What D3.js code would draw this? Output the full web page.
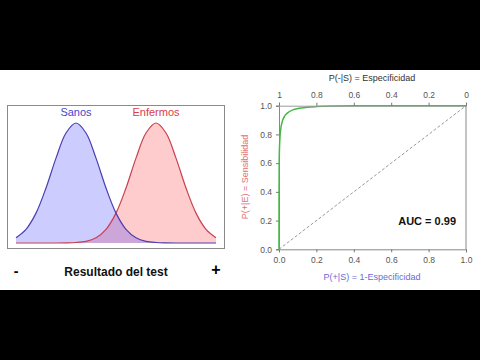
<!DOCTYPE html>
<html><head><meta charset="utf-8">
<script src="https://cdn.jsdelivr.net/npm/d3@7"></script>
<style>html,body{margin:0;padding:0;background:#fff;}svg{display:block;font-family:"Liberation Sans",Arial,sans-serif;}</style>
</head><body>
<svg id="c" width="480" height="360"></svg>
<script>
// Left panel: test result distributions (relative density)
const testX = [0,0.5,1,1.5,2,2.5,3,3.5,4,4.5,5,5.5,6,6.5,7,7.5,8,8.5,9,9.5,10];
const sanos = [0.044,0.114,0.249,0.458,0.707,0.917,1,0.917,0.707,0.458,0.249,0.114,0.044,0.014,0.004,0.001,0,0,0,0,0];
const enfermos = [0,0,0,0,0,0.001,0.004,0.014,0.044,0.114,0.249,0.458,0.707,0.917,1,0.917,0.707,0.458,0.249,0.114,0.044];
const groupLabels = ["Sanos","Enfermos"];
// Right panel: ROC curve
const fpr = [0,0.00001,0.0001,0.001,0.002,0.005,0.01,0.015,0.02,0.03,0.04,0.05,0.06,0.075,0.1,0.15,0.2,0.3,0.4,0.5,0.7,1];
const tpr = [0,0.176,0.348,0.595,0.675,0.775,0.843,0.878,0.90,0.927,0.943,0.954,0.962,0.971,0.980,0.989,0.9936,0.9975,0.999,0.9996,1,1];
const ticksBottom = [0,0.2,0.4,0.6,0.8,1.0];
const ticksTopLabels = ["1","0.8","0.6","0.4","0.2","0"];
const aucText = "AUC = 0.99";

const svg = d3.select("#c");
svg.append("rect").attr("x",0).attr("y",0).attr("width",480).attr("height",70).attr("fill","#000");
svg.append("rect").attr("x",0).attr("y",290).attr("width",480).attr("height",70).attr("fill","#000");

// ---- Left panel
const L = svg.append("g");
L.append("rect").attr("x",7.5).attr("y",105.5).attr("width",217).attr("height",143)
  .attr("fill","#fff").attr("stroke","#8a8a8a").attr("stroke-width",1);
const lx = d3.scaleLinear().domain([0,10]).range([16,216]);
const ly = d3.scaleLinear().domain([0,1]).range([243,123]);
const area = v => d3.area().x((d,i)=>lx(testX[i])).y0(ly(0)).y1((d,i)=>ly(v[i])).curve(d3.curveCatmullRom)(v);
const line = v => d3.line().x((d,i)=>lx(testX[i])).y((d,i)=>ly(v[i])).curve(d3.curveCatmullRom)(v);
L.append("path").attr("d",area(enfermos)).attr("fill","rgba(255,40,50,0.24)");
L.append("path").attr("d",area(sanos)).attr("fill","rgba(40,40,255,0.24)");
L.append("path").attr("d",line(enfermos)).attr("fill","none").attr("stroke","#c8404f").attr("stroke-width",1.2);
L.append("path").attr("d",line(sanos)).attr("fill","none").attr("stroke","#4a3fb0").attr("stroke-width",1.2);
L.append("text").attr("x",lx(3)).attr("y",116).attr("text-anchor","middle").attr("font-size",11).attr("fill","#4646cc").text(groupLabels[0]);
L.append("text").attr("x",lx(7)).attr("y",116).attr("text-anchor","middle").attr("font-size",11).attr("fill","#d8404c").text(groupLabels[1]);
L.append("text").attr("x",16).attr("y",276).attr("text-anchor","middle").attr("font-size",14).attr("font-weight","bold").text("-");
L.append("text").attr("x",116).attr("y",276).attr("text-anchor","middle").attr("font-size",12).attr("font-weight","bold").attr("fill","#111").text("Resultado del test");
L.append("text").attr("x",216).attr("y",275).attr("text-anchor","middle").attr("font-size",16).attr("font-weight","bold").text("+");

// ---- Right panel
const R = svg.append("g");
const rx = d3.scaleLinear().domain([0,1]).range([279,466]);
const ry = d3.scaleLinear().domain([0,1]).range([249.3,105.7]);
R.append("line").attr("x1",rx(1)).attr("x2",rx(1)).attr("y1",ry(0)).attr("y2",ry(1)).attr("stroke","#888");
const bAx = R.append("g").attr("transform",`translate(0,${ry(0)})`)
  .call(d3.axisBottom(rx).tickValues(ticksBottom).tickFormat(d3.format(".1f")).tickSize(3).tickPadding(5));
const lAx = R.append("g").attr("transform",`translate(${rx(0)},0)`)
  .call(d3.axisLeft(ry).tickValues(ticksBottom).tickFormat(d3.format(".1f")).tickSize(3).tickPadding(4));
R.append("line").attr("x1",rx(0)).attr("y1",ry(0)).attr("x2",rx(1)).attr("y2",ry(1))
  .attr("stroke","#999").attr("stroke-dasharray","3,2").attr("stroke-width",1);
R.append("path").attr("d",d3.line().x((d,i)=>rx(fpr[i])).y((d,i)=>ry(tpr[i])).curve(d3.curveMonotoneX)(fpr))
  .attr("fill","none").attr("stroke","#45b845").attr("stroke-width",1.5);
const tAx = R.append("g").attr("transform",`translate(0,${ry(1)})`)
  .call(d3.axisTop(rx).tickValues(ticksBottom).tickFormat((d,i)=>ticksTopLabels[i]).tickSize(3).tickPadding(5));
[bAx,lAx,tAx].forEach(a=>{
  a.select(".domain").attr("stroke","#888");
  a.selectAll(".tick line").attr("stroke","#777");
  a.selectAll(".tick text").attr("fill","#555").attr("font-size",8.5).attr("font-family","'Liberation Sans',Arial,sans-serif");
});
tAx.select(".domain").attr("stroke","#9a9a9a");
R.append("text").attr("x",456).attr("y",225).attr("text-anchor","end").attr("font-size",11).attr("font-weight","bold").attr("fill","#111").text(aucText);
R.append("text").attr("x",372).attr("y",81).attr("text-anchor","middle").attr("font-size",9).attr("fill","#333").text("P(-|S) = Especificidad");
R.append("text").attr("x",372).attr("y",280).attr("text-anchor","middle").attr("font-size",9).attr("fill","#6a6ad8").text("P(+|S) = 1-Especificidad");
R.append("text").attr("transform",`translate(248,177) rotate(-90)`).attr("text-anchor","middle").attr("font-size",9).attr("fill","#e07070").text("P(+|E) = Sensibilidad");
</script>
</body></html>
